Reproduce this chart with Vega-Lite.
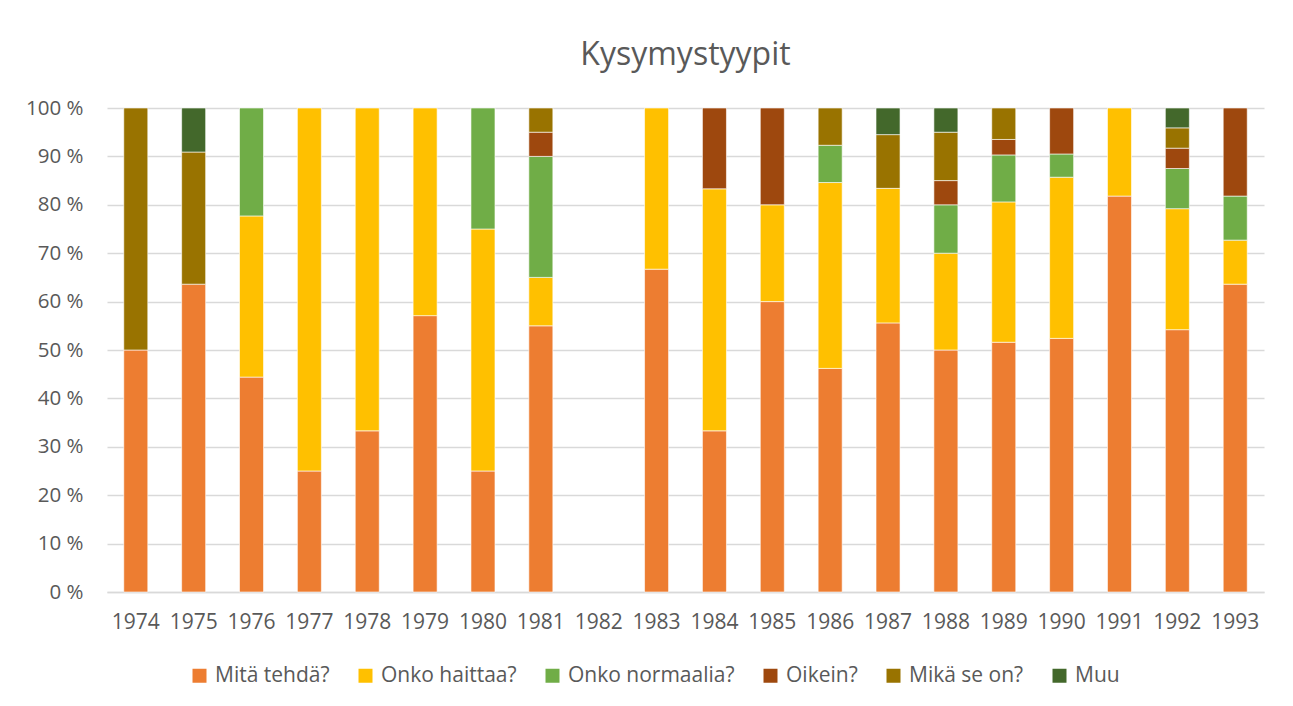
{
  "$schema": "https://vega.github.io/schema/vega-lite/v6.json",
  "width": 1157,
  "height": 484,
  "autosize": {"type": "none"},
  "padding": {"left": 107, "top": 108, "right": 29, "bottom": 114},
  "background": "white",
  "title": {
    "text": "Kysymystyypit",
    "anchor": "middle",
    "font": "Open Sans",
    "fontSize": 32,
    "fontWeight": "normal",
    "color": "#595959",
    "offset": 26
  },
  "data": {
    "values": [
      {"year": "1974", "type": "Mitä tehdä?", "o": 1, "v": 50},
      {"year": "1974", "type": "Mikä se on?", "o": 5, "v": 50},
      {"year": "1975", "type": "Mitä tehdä?", "o": 1, "v": 63.6},
      {"year": "1975", "type": "Mikä se on?", "o": 5, "v": 27.3},
      {"year": "1975", "type": "Muu", "o": 6, "v": 9.1},
      {"year": "1976", "type": "Mitä tehdä?", "o": 1, "v": 44.4},
      {"year": "1976", "type": "Onko haittaa?", "o": 2, "v": 33.3},
      {"year": "1976", "type": "Onko normaalia?", "o": 3, "v": 22.3},
      {"year": "1977", "type": "Mitä tehdä?", "o": 1, "v": 25},
      {"year": "1977", "type": "Onko haittaa?", "o": 2, "v": 75},
      {"year": "1978", "type": "Mitä tehdä?", "o": 1, "v": 33.3},
      {"year": "1978", "type": "Onko haittaa?", "o": 2, "v": 66.7},
      {"year": "1979", "type": "Mitä tehdä?", "o": 1, "v": 57.1},
      {"year": "1979", "type": "Onko haittaa?", "o": 2, "v": 42.9},
      {"year": "1980", "type": "Mitä tehdä?", "o": 1, "v": 25},
      {"year": "1980", "type": "Onko haittaa?", "o": 2, "v": 50},
      {"year": "1980", "type": "Onko normaalia?", "o": 3, "v": 25},
      {"year": "1981", "type": "Mitä tehdä?", "o": 1, "v": 55},
      {"year": "1981", "type": "Onko haittaa?", "o": 2, "v": 10},
      {"year": "1981", "type": "Onko normaalia?", "o": 3, "v": 25},
      {"year": "1981", "type": "Oikein?", "o": 4, "v": 5},
      {"year": "1981", "type": "Mikä se on?", "o": 5, "v": 5},
      {"year": "1983", "type": "Mitä tehdä?", "o": 1, "v": 66.7},
      {"year": "1983", "type": "Onko haittaa?", "o": 2, "v": 33.3},
      {"year": "1984", "type": "Mitä tehdä?", "o": 1, "v": 33.3},
      {"year": "1984", "type": "Onko haittaa?", "o": 2, "v": 50},
      {"year": "1984", "type": "Oikein?", "o": 4, "v": 16.7},
      {"year": "1985", "type": "Mitä tehdä?", "o": 1, "v": 60},
      {"year": "1985", "type": "Onko haittaa?", "o": 2, "v": 20},
      {"year": "1985", "type": "Oikein?", "o": 4, "v": 20},
      {"year": "1986", "type": "Mitä tehdä?", "o": 1, "v": 46.2},
      {"year": "1986", "type": "Onko haittaa?", "o": 2, "v": 38.4},
      {"year": "1986", "type": "Onko normaalia?", "o": 3, "v": 7.7},
      {"year": "1986", "type": "Mikä se on?", "o": 5, "v": 7.7},
      {"year": "1987", "type": "Mitä tehdä?", "o": 1, "v": 55.6},
      {"year": "1987", "type": "Onko haittaa?", "o": 2, "v": 27.8},
      {"year": "1987", "type": "Mikä se on?", "o": 5, "v": 11.1},
      {"year": "1987", "type": "Muu", "o": 6, "v": 5.5},
      {"year": "1988", "type": "Mitä tehdä?", "o": 1, "v": 50},
      {"year": "1988", "type": "Onko haittaa?", "o": 2, "v": 20},
      {"year": "1988", "type": "Onko normaalia?", "o": 3, "v": 10},
      {"year": "1988", "type": "Oikein?", "o": 4, "v": 5},
      {"year": "1988", "type": "Mikä se on?", "o": 5, "v": 10},
      {"year": "1988", "type": "Muu", "o": 6, "v": 5},
      {"year": "1989", "type": "Mitä tehdä?", "o": 1, "v": 51.6},
      {"year": "1989", "type": "Onko haittaa?", "o": 2, "v": 29.0},
      {"year": "1989", "type": "Onko normaalia?", "o": 3, "v": 9.7},
      {"year": "1989", "type": "Oikein?", "o": 4, "v": 3.2},
      {"year": "1989", "type": "Mikä se on?", "o": 5, "v": 6.5},
      {"year": "1990", "type": "Mitä tehdä?", "o": 1, "v": 52.4},
      {"year": "1990", "type": "Onko haittaa?", "o": 2, "v": 33.3},
      {"year": "1990", "type": "Onko normaalia?", "o": 3, "v": 4.8},
      {"year": "1990", "type": "Oikein?", "o": 4, "v": 9.5},
      {"year": "1991", "type": "Mitä tehdä?", "o": 1, "v": 81.8},
      {"year": "1991", "type": "Onko haittaa?", "o": 2, "v": 18.2},
      {"year": "1992", "type": "Mitä tehdä?", "o": 1, "v": 54.2},
      {"year": "1992", "type": "Onko haittaa?", "o": 2, "v": 25.0},
      {"year": "1992", "type": "Onko normaalia?", "o": 3, "v": 8.3},
      {"year": "1992", "type": "Oikein?", "o": 4, "v": 4.2},
      {"year": "1992", "type": "Mikä se on?", "o": 5, "v": 4.2},
      {"year": "1992", "type": "Muu", "o": 6, "v": 4.1},
      {"year": "1993", "type": "Mitä tehdä?", "o": 1, "v": 63.6},
      {"year": "1993", "type": "Onko haittaa?", "o": 2, "v": 9.1},
      {"year": "1993", "type": "Onko normaalia?", "o": 3, "v": 9.1},
      {"year": "1993", "type": "Oikein?", "o": 4, "v": 18.2}
    ]
  },
  "mark": {"type": "bar", "stroke": "white", "strokeWidth": 0.6},
  "encoding": {
    "x": {
      "field": "year",
      "type": "nominal",
      "title": null,
      "scale": {
        "domain": ["1974","1975","1976","1977","1978","1979","1980","1981","1982","1983","1984","1985","1986","1987","1988","1989","1990","1991","1992","1993"],
        "paddingInner": 0.585,
        "paddingOuter": 0.29
      },
      "axis": {
        "labelAngle": 0,
        "labelFont": "Open Sans",
        "labelFontSize": 21,
        "labelColor": "#595959",
        "labelPadding": 19,
        "ticks": false,
        "domainColor": "#D9D9D9",
        "domainWidth": 1.3
      }
    },
    "y": {
      "field": "v",
      "type": "quantitative",
      "stack": "normalize",
      "title": null,
      "scale": {"domain": [0, 1], "nice": false},
      "axis": {
        "values": [0, 0.1, 0.2, 0.3, 0.4, 0.5, 0.6, 0.7, 0.8, 0.9, 1],
        "labelExpr": "format(round(datum.value*100), 'd') + ' %'",
        "labelFont": "Open Sans",
        "labelFontSize": 20.5,
        "labelColor": "#595959",
        "labelPadding": 24,
        "ticks": false,
        "domain": false,
        "grid": true,
        "gridColor": "#D9D9D9",
        "gridWidth": 1.3
      }
    },
    "order": {"field": "o", "type": "quantitative", "sort": "ascending"},
    "color": {
      "field": "type",
      "type": "nominal",
      "title": null,
      "scale": {
        "domain": ["Mitä tehdä?", "Onko haittaa?", "Onko normaalia?", "Oikein?", "Mikä se on?", "Muu"],
        "range": ["#ED7D31", "#FFC000", "#70AD47", "#9E480E", "#997300", "#43682B"]
      },
      "legend": {
        "orient": "none",
        "legendX": 82,
        "legendY": 557,
        "direction": "horizontal",
        "symbolType": "square",
        "symbolSize": 196,
        "symbolStrokeWidth": 0,
        "labelFont": "Open Sans",
        "labelFontSize": 21,
        "labelColor": "#595959",
        "labelLimit": 400,
        "columnPadding": 25,
        "labelOffset": 5
      }
    }
  },
  "config": {"view": {"stroke": null}}
}
